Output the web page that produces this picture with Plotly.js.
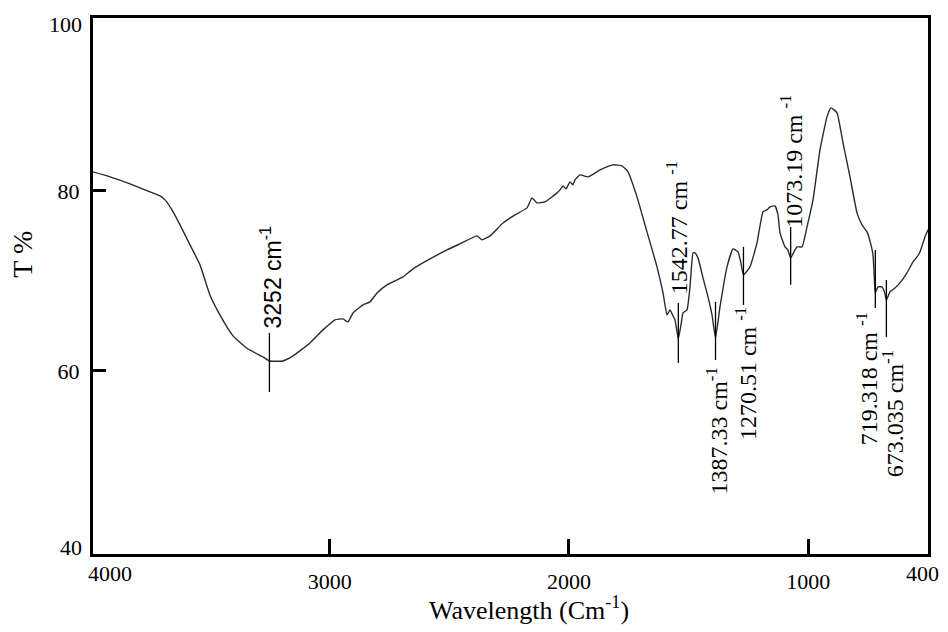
<!DOCTYPE html>
<html><head><meta charset="utf-8">
<script src="https://cdn.plot.ly/plotly-3.0.1.min.js"></script>
<style>body{margin:0;background:#fff}#chart{width:948px;height:632px}</style>
</head><body><div id="chart"></div>
<script>
// ---- data ----
const wavenumber = [3989.5,3918.4,3834.8,3751.2,3709.4,3688.5,3659.3,3625.8,3584.0,3542.2,3500.4,3458.6,3404.3,3341.6,3278.9,3252,3195.3,3153.5,3082.4,3028.1,2977.9,2944.5,2923.6,2902.7,2860.9,2831.6,2802.4,2760.6,2693.7,2651.9,2580.8,2509.8,2447.1,2384.4,2363.5,2330.0,2275.7,2225.5,2175.3,2154.4,2133.5,2100.1,2049.9,2037.4,2024.9,2012.3,1995.6,1983.1,1974.7,1953.8,1920.4,1870.2,1815.9,1778.2,1753.2,1715.5,1673.7,1631.9,1606.8,1590.1,1577.6,1565.0,1556.7,1542.77,1531.6,1523.2,1506.5,1494.0,1481.4,1473.1,1460.5,1439.6,1418.7,1402.0,1387.33,1368.6,1339.3,1314.2,1293.3,1282,1270.51,1243.2,1213.9,1188.8,1172.1,1159.6,1138.7,1126.1,1117.8,1096.9,1085,1073.19,1055.1,1046.7,1025.8,1004.9,979.8,950.6,921.3,904.6,879.5,854.4,825.2,795.9,775.0,754.1,737.4,729.0,723,719.318,708.1,691.4,680,673.035,658.0,637.1,616.2,586.9,561.8,545.1,532.6,511.7,499.1];
const transmittance = [82.11,81.56,80.78,79.89,79.44,79.00,77.89,76.22,74.00,71.78,68.4,66.2,63.9,62.44,61.56,61.11,61.11,61.67,63.11,64.56,65.67,65.78,65.44,66.44,67.33,67.67,68.67,69.56,70.44,71.33,72.44,73.44,74.22,75.00,74.56,75.00,76.44,77.33,78.11,79.22,78.67,78.78,79.78,80.11,80.56,80.22,81.00,80.67,81.22,81.78,81.56,82.33,82.89,82.78,82.11,79.33,75.44,71.56,68.67,66.22,66.78,66.11,65.67,63.56,65.11,66.44,66.78,69.33,73.11,73.11,72.56,70.33,68.22,66.22,63.67,67.11,71.56,73.56,73.22,72.11,70.67,71.56,74.22,77.67,77.89,78.22,78.33,77.33,75.33,73.78,73.44,72.56,73.44,73.78,73.78,76.00,79.00,84.56,88.22,89.22,88.67,85.33,81.56,77.56,76.22,75.44,74.00,72.89,70.11,68.67,69.33,69.33,68.67,67.89,68.78,69.22,69.78,70.89,72.11,72.67,73.22,74.89,75.67];

const peakWavenumbers = [3252, 1542.77, 1387.33, 1270.51, 1073.19, 719.318, 673.035];
const peakLabels = ["3252 cm<sup>-1</sup>", "1542.77 cm <sup>-1</sup>", "1387.33 cm<sup>-1</sup>",
                    "1270.51 cm <sup>-1</sup>", "1073.19 cm <sup>-1</sup>", "719.318 cm <sup>-1</sup>", "673.035 cm<sup>-1</sup>"];

const xTickVals = [3000, 2000, 1000];
const xTickText = ["3000", "2000", "1000"];
const xEndLabels = ["4000", "400"];
const yTickVals = [60, 80];
const yTickText = ["60", "80"];
const yEndLabels = ["40", "100"];
const xTitle = "Wavelength (Cm<sup>-1</sup>)";
const yTitle = "T %";

// ---- layout / styling (positions, not data) ----
const markerTop = [64.22, 67.56, 67.67, 73.78, 76.0, 73.44, 70.11];
const markerBottom = [57.67, 60.89, 61.22, 67.33, 69.56, 67.0, 63.78];
const labelY = [64.6, 68.4, 60.5, 67.2, 75.8, 66.6, 62.4];
const labelAnchor = ['bottom', 'bottom', 'top', 'top', 'bottom', 'top', 'top'];
const labelShift = [2, -2, 1, 2, 1, -8, 6];
const labelFamily = ['Liberation Sans, Arial, sans-serif', 'Liberation Serif, serif', 'Liberation Serif, serif', 'Liberation Serif, serif', 'Liberation Serif, serif', 'Liberation Serif, serif', 'Liberation Serif, serif'];
const labelSize = [23, 24, 24, 24, 24, 24, 24];

const serif = 'Liberation Serif, Times New Roman, serif';

const mx = [], my = [];
peakWavenumbers.forEach((p, i) => { mx.push(p, p, null); my.push(markerTop[i], markerBottom[i], null); });

const traces = [
  { x: wavenumber, y: transmittance, type: 'scatter', mode: 'lines',
    line: { color: '#2b2b2b', width: 1.4, shape: 'spline', smoothing: 0.4 }, hoverinfo: 'skip' },
  { x: mx, y: my, type: 'scatter', mode: 'lines',
    line: { color: '#000', width: 1.3 }, hoverinfo: 'skip' }
];

const annotations = [];
peakWavenumbers.forEach((p, i) => {
  annotations.push({
    x: p, y: labelY[i], xref: 'x', yref: 'y', text: peakLabels[i], showarrow: false,
    textangle: -90, xanchor: 'center', yanchor: labelAnchor[i], xshift: labelShift[i],
    font: { family: labelFamily[i], size: labelSize[i], color: '#000' }, borderpad: 0
  });
});
// end labels of the axes
annotations.push({ x: 0.0204, y: -0.037, xref: 'paper', yref: 'paper', text: xEndLabels[0], showarrow: false,
  xanchor: 'center', yanchor: 'middle', font: { family: serif, size: 22, color: '#000' } });
annotations.push({ x: 0.994, y: -0.037, xref: 'paper', yref: 'paper', text: xEndLabels[1], showarrow: false,
  xanchor: 'center', yanchor: 'middle', font: { family: serif, size: 22, color: '#000' } });
annotations.push({ x: -0.0108, y: 0.0112, xref: 'paper', yref: 'paper', text: yEndLabels[0], showarrow: false,
  xanchor: 'right', yanchor: 'middle', font: { family: serif, size: 22, color: '#000' } });
annotations.push({ x: -0.0108, y: 0.987, xref: 'paper', yref: 'paper', text: yEndLabels[1], showarrow: false,
  xanchor: 'right', yanchor: 'middle', font: { family: serif, size: 22, color: '#000' } });
// axis titles
annotations.push({ x: 0.522, y: -0.101, xref: 'paper', yref: 'paper', text: xTitle, showarrow: false,
  xanchor: 'center', yanchor: 'middle', font: { family: serif, size: 26, color: '#000' } });
annotations.push({ x: -0.084, y: 0.56, xref: 'paper', yref: 'paper', text: yTitle, showarrow: false,
  textangle: -90, xanchor: 'center', yanchor: 'middle', font: { family: serif, size: 28, color: '#000' } });

const layout = {
  width: 948, height: 632,
  margin: { l: 93, r: 20, t: 18, b: 78 },
  paper_bgcolor: '#fff', plot_bgcolor: '#fff',
  showlegend: false,
  xaxis: {
    range: [3989.5, 499.1], tickvals: xTickVals, ticktext: xTickText,
    ticks: 'inside', ticklen: 15, tickwidth: 3, tickcolor: '#000',
    showline: true, linewidth: 3, linecolor: '#000', mirror: true,
    showgrid: false, zeroline: false, ticklabelstandoff: 6,
    tickfont: { family: serif, size: 22, color: '#000' }
  },
  yaxis: {
    range: [39.67, 99.2], tickvals: yTickVals, ticktext: yTickText,
    ticks: 'inside', ticklen: 13, tickwidth: 3, tickcolor: '#000',
    showline: true, linewidth: 3, linecolor: '#000', mirror: true,
    showgrid: false, zeroline: false, ticklabelstandoff: 6,
    tickfont: { family: serif, size: 22, color: '#000' }
  },
  annotations: annotations
};

Plotly.newPlot('chart', traces, layout, { displayModeBar: false, staticPlot: true });
</script>
</body></html>
